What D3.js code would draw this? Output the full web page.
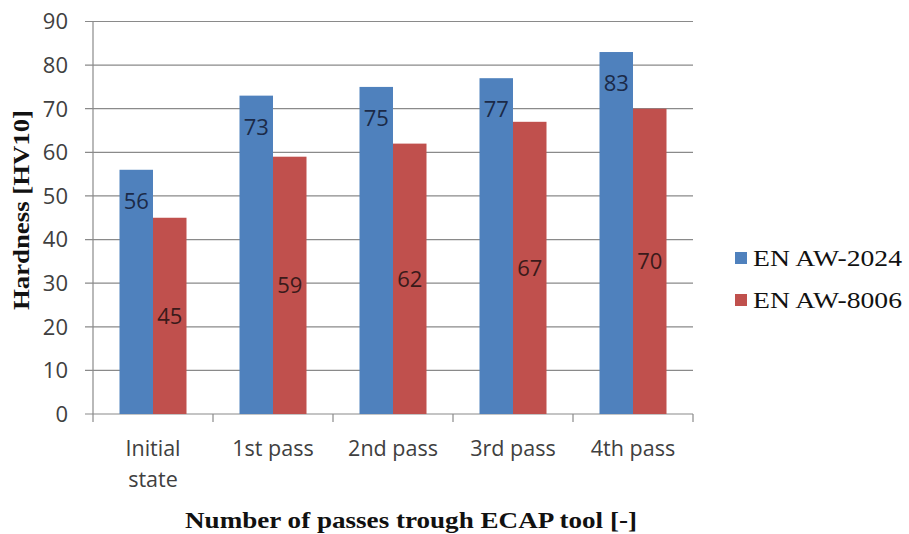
<!DOCTYPE html>
<html><head><meta charset="utf-8">
<script src="https://cdn.jsdelivr.net/npm/d3@7"></script>
<style>body{margin:0;background:#fff}</style>
</head><body>
<svg id="c" width="909" height="534"></svg>
<script>
const categories = [["Initial","state"],["1st pass"],["2nd pass"],["3rd pass"],["4th pass"]];
const seriesNames = ["EN AW-2024","EN AW-8006"];
const aw2024 = [56,73,75,77,83];
const aw8006 = [45,59,62,67,70];
const yTicks = [0,10,20,30,40,50,60,70,80,90];
const colors = ["#4f81bd","#c0504d"];
const labelColors = ["#1b2a48","#3a1a1a"];

const svg = d3.select("#c");
const x0 = 93, x1 = 693, yTop = 21.5, yBot = 414;
const x = d3.scaleBand().domain(d3.range(categories.length)).range([x0,x1]).paddingInner(0).paddingOuter(0);
const y = d3.scaleLinear().domain([0,90]).range([yBot,yTop]);
const groupW = 67;
const xs = d3.scaleBand().domain([0,1]).range([0,groupW]);
const sans = "Open Sans, sans-serif";
const serif = "Liberation Serif, Times New Roman, serif";

// gridlines
svg.append("g").selectAll("line").data(yTicks).join("line")
  .attr("x1",85).attr("x2",x1).attr("y1",d=>y(d)).attr("y2",d=>y(d))
  .attr("stroke","#8a8a8a").attr("stroke-width",1.2);
// y axis line
svg.append("line").attr("x1",x0).attr("x2",x0).attr("y1",yTop).attr("y2",yBot)
  .attr("stroke","#8a8a8a").attr("stroke-width",1.2);
// x category ticks
svg.append("g").selectAll("line").data(d3.range(categories.length+1)).join("line")
  .attr("x1",d=>x0+d*x.bandwidth()).attr("x2",d=>x0+d*x.bandwidth())
  .attr("y1",yBot).attr("y2",yBot+8).attr("stroke","#8a8a8a").attr("stroke-width",1.2);

// y tick labels
svg.append("g").selectAll("text").data(yTicks).join("text")
  .attr("x",68).attr("y",d=>y(d)).attr("dy","0.36em").attr("text-anchor","end")
  .attr("font-family",sans).attr("font-size",22).attr("fill","#404040")
  .text(d=>d);

// bars
const series = [aw2024, aw8006];
series.forEach((vals,si)=>{
  const g = svg.append("g");
  g.selectAll("rect").data(vals).join("rect")
    .attr("x",(d,i)=>x(i)+(x.bandwidth()-groupW)/2+xs(si))
    .attr("width",xs.bandwidth())
    .attr("y",d=>y(d)).attr("height",d=>yBot-y(d))
    .attr("fill",colors[si]);
  g.selectAll("text").data(vals).join("text")
    .attr("x",(d,i)=>x(i)+(x.bandwidth()-groupW)/2+xs(si)+xs.bandwidth()/2)
    .attr("y",d=> si===0 ? y(d)+31 : (y(d)+yBot)/2)
    .attr("dy","0.36em").attr("text-anchor","middle")
    .attr("font-family",sans).attr("font-size",22).attr("fill",labelColors[si])
    .text(d=>d);
});

// category labels
const cg = svg.append("g");
categories.forEach((lines,i)=>{
  const t = cg.append("text").attr("x",x(i)+x.bandwidth()/2).attr("y",456)
    .attr("text-anchor","middle").attr("font-family",sans)
    .attr("font-size",21.5).attr("fill","#404040");
  lines.forEach((l,j)=>t.append("tspan").attr("x",x(i)+x.bandwidth()/2).attr("dy",j?31:0).text(l));
});

// axis titles
svg.append("text").attr("x",411).attr("y",528).attr("text-anchor","middle")
  .attr("font-family",serif).attr("font-weight","bold")
  .attr("font-size",23).attr("fill","#111")
  .attr("textLength",452).attr("lengthAdjust","spacingAndGlyphs")
  .text("Number of passes trough ECAP tool [-]");
svg.append("text").attr("transform","translate(29,210) rotate(-90)").attr("text-anchor","middle")
  .attr("font-family",serif).attr("font-weight","bold")
  .attr("font-size",23).attr("fill","#111")
  .attr("textLength",200).attr("lengthAdjust","spacingAndGlyphs")
  .text("Hardness [HV10]");

// legend
const lg = svg.append("g");
seriesNames.forEach((n,i)=>{
  const yy = 258 + i*42;
  lg.append("rect").attr("x",735).attr("y",yy-6).attr("width",12).attr("height",12).attr("fill",colors[i]);
  lg.append("text").attr("x",753).attr("y",yy+8)
    .attr("font-family",serif).attr("font-size",23).attr("fill","#111")
    .attr("textLength",149).attr("lengthAdjust","spacingAndGlyphs")
    .text(n);
});
</script>
</body></html>
